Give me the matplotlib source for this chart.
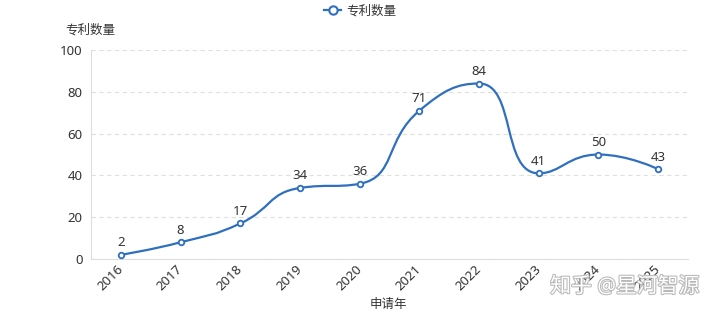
import numpy as np
import matplotlib
matplotlib.use("Agg")
import matplotlib.pyplot as plt
from matplotlib.path import Path
from matplotlib.patches import PathPatch
from matplotlib.lines import Line2D
import matplotlib.patheffects as pe

plt.rcParams['font.family'] = ['Noto Sans', 'Noto Sans CJK SC', 'DejaVu Sans']

years = ['2016', '2017', '2018', '2019', '2020', '2021', '2022', '2023', '2024', '2025']
counts = [2, 8, 17, 34, 36, 71, 84, 41, 50, 43]

line_color = '#2f6fc0'
text_color = '#333333'


def clamp(v, a, b):
    return min(max(v, min(a, b)), max(a, b))


def smooth_path(xs, ys, sx, sy, smooth=0.5):
    """echarts style bezier smoothing (no overshoot), in pixel units"""
    px = list(np.asarray(xs, float) * sx)
    py = list(np.asarray(ys, float) * sy)
    n = len(px)
    verts = [(px[0], py[0])]
    codes = [Path.MOVETO]
    cpx0, cpy0 = px[0], py[0]
    for i in range(1, n):
        x, y = px[i], py[i]
        if i == n - 1:
            verts += [(cpx0, cpy0), (x, y), (x, y)]
            codes += [Path.CURVE4] * 3
            break
        prevx, prevy = px[i - 1], py[i - 1]
        nextx, nexty = px[i + 1], py[i + 1]
        vx, vy = nextx - prevx, nexty - prevy
        len_prev = np.hypot(x - prevx, y - prevy)
        len_next = np.hypot(nextx - x, nexty - y)
        r = len_next / (len_next + len_prev)
        ncx = clamp(x + vx * smooth * r, nextx, x)
        ncy = clamp(y + vy * smooth * r, nexty, y)
        vx, vy = ncx - x, ncy - y
        cx = clamp(x - vx * len_prev / len_next, prevx, x)
        cy = clamp(y - vy * len_prev / len_next, prevy, y)
        vx, vy = x - cx, y - cy
        ncx = x + vx * len_next / len_prev
        ncy = y + vy * len_next / len_prev
        verts += [(cpx0, cpy0), (cx, cy), (x, y)]
        codes += [Path.CURVE4] * 3
        cpx0, cpy0 = ncx, ncy
    verts = [(a / sx, b / sy) for a, b in verts]
    return Path(verts, codes)


fig = plt.figure(figsize=(7.2, 3.17), dpi=100)
ax = fig.add_axes([0.1264, 0.183, 0.8292, 0.659])

x = np.arange(len(years))
ax.set_xlim(-0.5, len(years) - 0.5)
ax.set_ylim(0, 100)

# pixel size of one data unit
sx = 0.8292 * 720 / len(years)
sy = 0.659 * 317 / 100.0
path = smooth_path(x, counts, sx, sy)
ax.add_patch(PathPatch(path, facecolor='none', edgecolor=line_color, lw=1.6, zorder=3))
ax.plot(x, counts, 'o', ms=4, mfc='white', mec=line_color, mew=1.3, zorder=4, clip_on=False)

for xi, v in zip(x, counts):
    ax.annotate(str(v), (xi, v), xytext=(0, 4), textcoords='offset points',
                ha='center', va='bottom', fontsize=9.5, color=text_color)

ax.set_yticks(range(0, 101, 20))
ax.yaxis.grid(True, linestyle=(0, (4, 3)), color='#e0e0e0', lw=0.8)
ax.set_axisbelow(True)
ax.set_xticks(x)
ax.set_xticklabels(years, rotation=45, ha='right', va='center', rotation_mode='anchor')
ax.tick_params(axis='both', length=0, labelsize=9.5, colors=text_color)
ax.tick_params(axis='x', pad=6)
ax.tick_params(axis='y', pad=6)

for s in ['top', 'right']:
    ax.spines[s].set_visible(False)
ax.spines['left'].set_color('#dddddd')
ax.spines['bottom'].set_color('#dddddd')

fig.text(0.125, 0.905, '专利数量', ha='center', va='center', fontsize=9, color=text_color)
fig.text(0.54, 0.038, '申请年', ha='center', va='center', fontsize=9, color=text_color)

handle = Line2D([], [], color=line_color, lw=1.6, marker='o', ms=6, mfc='white', mew=1.5)
fig.legend([handle], ['专利数量'], loc='center', bbox_to_anchor=(0.5, 0.965), frameon=False,
           fontsize=9, handlelength=1.4, handletextpad=0.4, labelcolor=text_color)

fig.text(0.868, 0.095, '知乎 @星河智源', ha='center', va='center', fontsize=15, color='white',
         path_effects=[pe.withStroke(linewidth=1.5, foreground='#b8b8b8')])

fig.savefig('out.png', dpi=100, facecolor='white')
